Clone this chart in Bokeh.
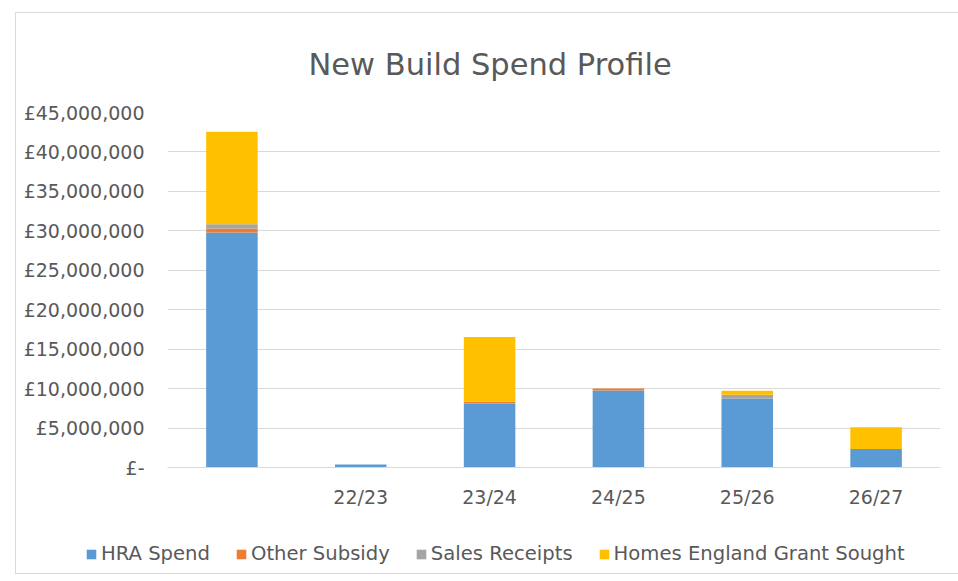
from bokeh.plotting import figure
from bokeh.layouts import column
from bokeh.models import ColumnDataSource, FixedTicker, CustomJSTickFormatter, Legend, Range1d
from bokeh.embed import file_html
from bokeh.resources import INLINE

years = [" ", "22/23", "23/24", "24/25", "25/26", "26/27"]
hra_spend = [29800000, 380000, 8100000, 9770000, 8700000, 2330000]
other_subsidy = [500000, 0, 250000, 250000, 0, 0]
sales_receipts = [550000, 0, 0, 0, 520000, 0]
homes_england = [11700000, 0, 8200000, 0, 500000, 2770000]
series = ["HRA Spend", "Other Subsidy", "Sales Receipts", "Homes England Grant Sought"]
colors = ["#5B9BD5", "#ED7D31", "#A5A5A5", "#FFC000"]
y_ticks = [0, 5000000, 10000000, 15000000, 20000000, 25000000, 30000000, 35000000, 40000000, 45000000]

src = ColumnDataSource(dict(years=years, s0=hra_spend, s1=other_subsidy, s2=sales_receipts, s3=homes_england))

FONT = "DejaVu Sans"
TXT = "#595959"
p = figure(x_range=years, y_range=Range1d(0, 45000000), width=942, height=500,
           output_backend="svg", toolbar_location=None,
           title="New Build Spend Profile",
           min_border_left=151, min_border_right=18, min_border_top=98, min_border_bottom=46)

r = p.vbar_stack(["s0", "s1", "s2", "s3"], x="years", width=0.4, color=colors,
                 line_color=None, source=src)

p.title.align = "left"
p.title.text_font = FONT
p.title.text_font_size = "30.5px"
p.title.text_font_style = "normal"
p.title.text_color = TXT
p.title.text_line_height = 1.0
p.title.offset = 141
p.title.standoff = 62

p.yaxis.ticker = FixedTicker(ticks=y_ticks)
p.yaxis.formatter = CustomJSTickFormatter(code="""
return tick == 0 ? "\u00a3-" : "\u00a3" + tick.toLocaleString('en-GB');
""")
p.yaxis.axis_line_color = None
p.yaxis.major_tick_line_color = None
p.yaxis.minor_tick_line_color = None
p.yaxis.major_label_text_font = FONT
p.yaxis.major_label_text_font_size = "19px"
p.yaxis.major_label_text_color = TXT
p.yaxis.major_label_standoff = 17

p.xaxis.axis_line_color = "#D9D9D9"
p.xaxis.axis_line_width = 1
p.xaxis.major_tick_line_color = None
p.xaxis.minor_tick_line_color = None
p.xaxis.major_label_text_font = FONT
p.xaxis.major_label_text_font_size = "19px"
p.xaxis.major_label_text_color = TXT
p.xaxis.major_label_standoff = 12

p.xgrid.grid_line_color = None
p.ygrid.grid_line_color = "#D9D9D9"
p.ygrid.grid_line_width = 1
p.outline_line_color = None
p.x_range.range_padding = 0

leg = figure(width=942, height=60, output_backend="svg", toolbar_location=None,
             x_range=Range1d(0, 1), y_range=Range1d(0, 1),
             x_axis_location=None, y_axis_location=None,
             min_border_left=0, min_border_right=0, min_border_top=0, min_border_bottom=0)
leg.outline_line_color = None
leg.xgrid.visible = False
leg.ygrid.visible = False
# legend-only swatches (zero-height, not visible in the frame)
dummies = [leg.vbar(x=[0.5], top=[0], width=0.4, color=c, line_color=None) for c in colors]

legend = Legend(items=[(s, [g]) for s, g in zip(series, dummies)], orientation="horizontal",
                location=(69, 8))
legend.label_text_font = FONT
legend.label_text_font_size = "19.6px"
legend.label_text_color = TXT
legend.glyph_width = 12
legend.glyph_height = 12
legend.spacing = 25
legend.label_standoff = 4
legend.border_line_color = None
legend.background_fill_alpha = 0
legend.margin = 0
legend.padding = 0
leg.add_layout(legend, "center")

layout = column(p, column(leg), spacing=0)
layout.margin = (12, 0, 0, 15)
layout.styles = {"border": "1px solid #D9D9D9"}

open("out.html", "w").write(file_html(layout, INLINE))
